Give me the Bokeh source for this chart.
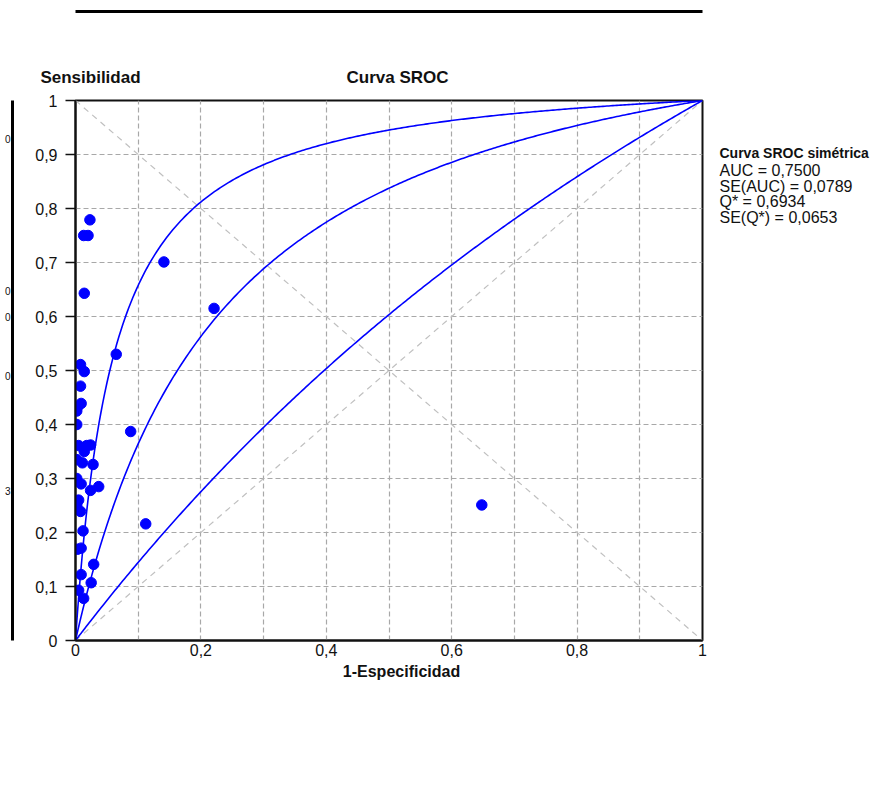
import numpy as np
from bokeh.plotting import figure
from bokeh.models import Range1d, FixedTicker, LinearAxis, CustomJSTickFormatter
from bokeh.embed import file_html
from bokeh.resources import INLINE

# ---- data: (1-Especificidad, Sensibilidad) per study ----
fpr = [0.023, 0.013, 0.020, 0.014, 0.141, 0.221, 0.065, 0.008, 0.014, 0.008,
       0.009, 0.003, 0.002, 0.002, 0.088, 0.005, 0.018, 0.024, 0.014, 0.002,
       0.011, 0.028, 0.002, 0.009, 0.024, 0.037, 0.005, 0.002, 0.008, 0.012,
       0.112, 0.648, 0.003, 0.009, 0.029, 0.009, 0.025, 0.005, 0.013]
sens = [0.779, 0.750, 0.750, 0.643, 0.701, 0.615, 0.530, 0.511, 0.498, 0.471,
        0.439, 0.432, 0.425, 0.400, 0.387, 0.361, 0.361, 0.362, 0.350, 0.335,
        0.329, 0.326, 0.300, 0.290, 0.278, 0.285, 0.260, 0.251, 0.239, 0.203,
        0.216, 0.251, 0.169, 0.171, 0.141, 0.122, 0.107, 0.093, 0.078]

# symmetric SROC curves, given by their log diagnostic odds ratio
sroc_lnDOR = {"lower": 0.42, "sroc": 1.64, "upper": 2.85}

y_ticks = [0.0, 0.1, 0.2, 0.3, 0.4, 0.5, 0.6, 0.7, 0.8, 0.9, 1.0]
x_label_ticks = [0.0, 0.2, 0.4, 0.6, 0.8, 1.0]
x_grid_ticks = [0.1, 0.2, 0.3, 0.4, 0.5, 0.6, 0.7, 0.8, 0.9]

title_text = "Curva SROC"
y_title = "Sensibilidad"
x_title = "1-Especificidad"
stats_title = "Curva SROC simétrica"
stats_lines = ["AUC = 0,7500", "SE(AUC) = 0,0789", "Q* = 0,6934", "SE(Q*) = 0,0653"]
# fragments of a neighbouring window's labels at the far left edge
edge_texts = ["0", "0", "0", "0", "3"]
edge_rows = [138, 290, 316, 375, 490]

# ---- layout ----
W, H = 877, 785
L, R, T, B = 75, 175, 100, 145
FW, FH = W - L - R, H - T - B

def fx(px):      # pixel column -> position along the frame's x scale
    return (px - L) / FW

def fy(py):      # pixel row -> position along the frame's y scale
    return (T + FH - py) / FH

FONT = "Liberation Sans"
BLUE = "#0000ff"
INK = "#111111"

p = figure(width=W, height=H, x_range=Range1d(0, 1), y_range=Range1d(0, 1),
           output_backend="svg", toolbar_location=None,
           min_border_left=L, min_border_right=R, min_border_top=T, min_border_bottom=B,
           background_fill_color="white", border_fill_color="white")
p.outline_line_color = INK
p.outline_line_width = 2

fmt = CustomJSTickFormatter(code="""
const s = tick.toFixed(1);
if (s.endsWith('.0')) return s.slice(0, -2);
return s.replace('.', ',');
""")

p.yaxis.ticker = FixedTicker(ticks=y_ticks)
p.yaxis.formatter = fmt
p.yaxis.major_tick_out = 10
p.yaxis.major_tick_in = 0
p.yaxis.minor_tick_out = 0
p.yaxis.minor_tick_in = 0
p.yaxis.major_tick_line_width = 1.5
p.yaxis.axis_line_width = 2
p.yaxis.axis_line_color = INK
p.yaxis.major_tick_line_color = INK
p.yaxis.major_label_text_font = FONT
p.yaxis.major_label_text_font_size = "16px"
p.yaxis.major_label_text_color = INK
p.yaxis.major_label_standoff = 8

p.xaxis.ticker = FixedTicker(ticks=x_label_ticks)
p.xaxis.formatter = fmt
p.xaxis.major_tick_out = 0
p.xaxis.major_tick_in = 0
p.xaxis.minor_tick_out = 0
p.xaxis.minor_tick_in = 0
p.xaxis.axis_line_width = 2
p.xaxis.axis_line_color = INK
p.xaxis.major_label_text_font = FONT
p.xaxis.major_label_text_font_size = "16px"
p.xaxis.major_label_text_color = INK
p.xaxis.major_label_standoff = 3


def text_axis(pos, txt, standoff, size, bold=False, line=None):
    """An axis without ticks, used to carry texts (and optionally a rule) outside the frame."""
    return LinearAxis(
        ticker=FixedTicker(ticks=pos),
        formatter=CustomJSTickFormatter(args=dict(pos=pos, txt=txt), code="""
const i = pos.findIndex(v => Math.abs(v - tick) < 1e-9);
return i >= 0 ? txt[i] : '';
"""),
        axis_line_color=line, axis_line_width=3,
        major_tick_out=0, major_tick_in=0, minor_tick_out=0, minor_tick_in=0,
        major_label_standoff=standoff, major_label_text_font=FONT,
        major_label_text_font_size=size,
        major_label_text_font_style="bold" if bold else "normal",
        major_label_text_color=INK)


def spacer_axis(gap):
    return LinearAxis(ticker=FixedTicker(ticks=[0.5]),
                      formatter=CustomJSTickFormatter(code="return '';"),
                      axis_line_color=None, major_tick_line_color=None,
                      major_tick_out=gap, major_tick_in=0,
                      minor_tick_out=0, minor_tick_in=0,
                      major_label_standoff=0, major_label_text_font_size="1px")


# x title, centred where the original has it
p.add_layout(text_axis([fx(401)], [x_title], 4, "16px", bold=True), "below")

# top texts (y title and chart title), then the window's top edge line
p.add_layout(text_axis([fx(90), fx(397)], [y_title, title_text], 14, "17px", bold=True), "above")
p.add_layout(spacer_axis(53), "above")
p.add_layout(text_axis([], [], 0, "1px", line="black"), "above")

# statistics block on the right
p.add_layout(text_axis([fy(170 + i * 15.6) for i in range(4)], stats_lines, 17, "16px"), "right")
p.add_layout(text_axis([fy(152)], [stats_title], -136, "14px", bold=True), "right")

# window's left edge line with the label fragments next to it
p.add_layout(spacer_axis(20), "left")
p.add_layout(text_axis([fy(r) for r in edge_rows], edge_texts, 2, "10px", line="black"), "left")

p.xgrid.ticker = FixedTicker(ticks=x_grid_ticks)
p.ygrid.ticker = FixedTicker(ticks=y_ticks[1:-1])
for g in (p.xgrid, p.ygrid):
    g.grid_line_color = "#a8a8a8"
    g.grid_line_dash = "5 3"
    g.grid_line_width = 1.2

# reference diagonals
p.line([0, 1], [0, 1], line_color="#c0c0c0", line_dash="6 5", line_width=1.2)
p.line([0, 1], [1, 0], line_color="#c0c0c0", line_dash="6 5", line_width=1.2)

# SROC curves
f = np.concatenate([[0.0], np.geomspace(1e-5, 0.05, 120), np.linspace(0.05, 1.0, 300)[1:]])
for key in ("lower", "sroc", "upper"):
    odds = np.exp(sroc_lnDOR[key])
    tpr = f * odds / (1 - f + f * odds)
    p.line(f, tpr, line_color=BLUE, line_width=1.6)

# studies
p.scatter(fpr, sens, size=10.5, fill_color=BLUE, line_color=BLUE)

open("out.html", "w").write(file_html(p, INLINE))
